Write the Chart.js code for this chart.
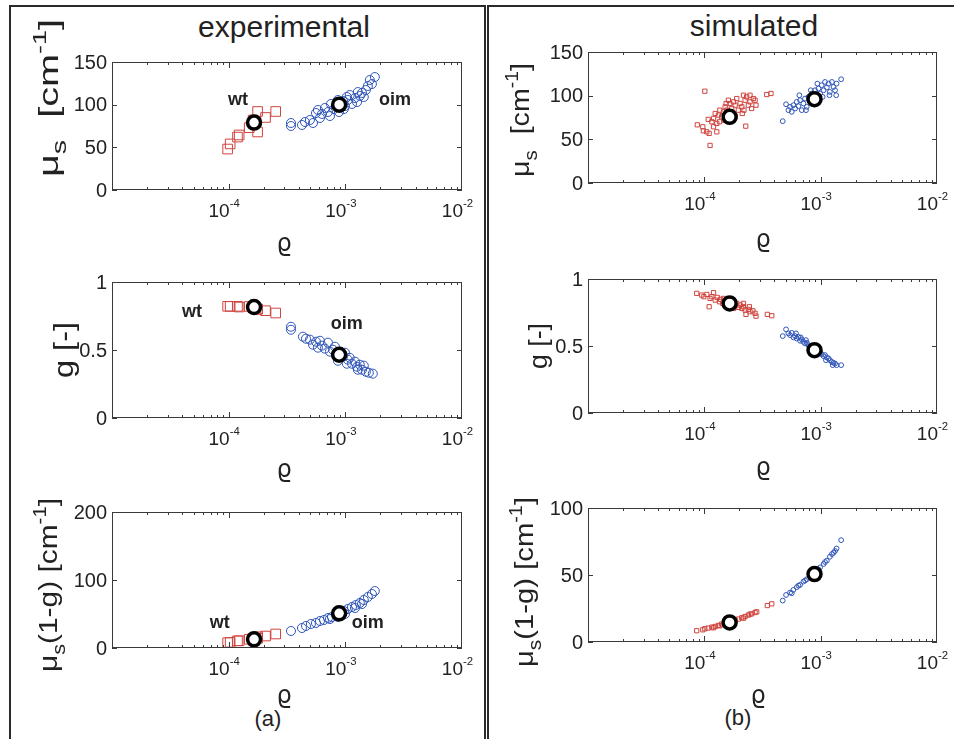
<!DOCTYPE html>
<html>
<head>
<meta charset="utf-8">
<script src="https://cdn.jsdelivr.net/npm/chart.js@4.4.1/dist/chart.umd.min.js"></script>
<style>
  body { margin: 0; width: 954px; height: 739px; overflow: hidden; position: relative; background: #fff;
         font-family: Arial, "Liberation Sans", sans-serif; color: #222; }
  canvas { position: absolute; left: 0; top: 0; pointer-events: none; }
  .frame { position: absolute; box-sizing: border-box; border: 2px solid #2a2a2a; }
  .head { position: absolute; width: 300px; text-align: center; font-size: 30px; line-height: 30px; }
  .tag { position: absolute; width: 60px; text-align: center; font-size: 22px; line-height: 22px; }
</style>
</head>
<body>
<div class="frame" style="left:9px;top:5px;width:477px;height:736px"></div>
<div class="frame" style="left:487px;top:5px;width:480px;height:736px"></div>
<div class="head" style="left:134px;top:12px">experimental</div>
<div class="head" style="left:604px;top:11px">simulated</div>
<div class="tag" style="left:238px;top:708px">(a)</div>
<div class="tag" style="left:708px;top:707px">(b)</div>

<canvas id="tl" width="954" height="739"></canvas>
<canvas id="ml" width="954" height="739"></canvas>
<canvas id="bl" width="954" height="739"></canvas>
<canvas id="tr" width="954" height="739"></canvas>
<canvas id="mr" width="954" height="739"></canvas>
<canvas id="br" width="954" height="739"></canvas>

<script>
// --- axis ticks ---
const rhoTicks = [1e-4, 1e-3, 1e-2];
const musTicks = [0, 50, 100, 150];
const gTicks = [0, 0.5, 1];
const mugExpTicks = [0, 100, 200];
const mugSimTicks = [0, 50, 100];

// --- group means (big black circles) ---
const meanRho = [1.65e-4, 8.85e-4];
const expMeanMus = [79, 100];
const expMeanG = [0.816, 0.465];
const expMeanMug = [12.8, 51];
const simMeanMus = [75.8, 96];
const simMeanG = [0.818, 0.469];
const simMeanMug = [14.6, 50.7];

// --- experimental, wt ---
const expWtRho = [0.98e-4, 1.03e-4, 1.19e-4, 1.23e-4, 1.50e-4, 1.62e-4, 1.77e-4, 1.77e-4, 2.07e-4, 2.53e-4];
const expWtMus = [48, 54, 62, 64.5, 73, 82, 68, 92, 85, 92];
const expWtG = [0.821, 0.821, 0.821, 0.816, 0.82, 0.81, 0.80, 0.80, 0.789, 0.772];
const expWtMug = [7.8, 8.4, 10.5, 10.7, 12.8, 14.5, 14.3, 16.5, 17.6, 20.6];

// --- experimental, oim ---
const expOimRhoA = [3.42e-4, 3.42e-4, 4.25e-4, 4.51e-4, 4.97e-4, 5.28e-4, 5.60e-4, 5.82e-4, 6.30e-4, 6.68e-4,
  7.10e-4, 7.53e-4, 7.99e-4, 8.31e-4, 8.82e-4, 8.99e-4, 9.53e-4, 9.93e-4, 1.05e-3, 1.09e-3,
  1.14e-3, 1.21e-3, 1.26e-3, 1.28e-3, 1.33e-3, 1.39e-3, 1.44e-3, 1.50e-3, 1.56e-3, 1.69e-3,
  1.62e-3, 1.79e-3, 1.03e-3, 9.72e-4, 8.64e-4, 7.38e-4, 6.06e-4];
const expOimMus = [78.5, 75.0, 76.2, 79.7, 82.0, 78.5, 90.2, 93.8, 89.1, 96.1,
  91.4, 100.8, 94.9, 98.4, 91.4, 102.0, 104.3, 98.4, 105.5, 111.3,
  100.8, 107.8, 103.1, 114.8, 110.2, 113.7, 109.0, 117.2, 121.9, 124.2,
  128.9, 132.4, 109.0, 94.9, 105.5, 86.7, 84.4];

const expOimRhoB = [3.42e-4, 3.42e-4, 4.33e-4, 4.60e-4, 4.97e-4, 5.28e-4, 5.60e-4, 5.82e-4, 6.06e-4, 6.30e-4,
  6.68e-4, 7.10e-4, 7.38e-4, 7.83e-4, 8.15e-4, 8.47e-4, 8.99e-4, 9.53e-4, 9.93e-4, 1.05e-3,
  1.09e-3, 1.14e-3, 1.21e-3, 1.26e-3, 1.28e-3, 1.33e-3, 1.39e-3, 1.44e-3, 1.50e-3, 1.59e-3,
  1.72e-3, 1.03e-3, 8.64e-4];
const expOimG = [0.671, 0.649, 0.598, 0.583, 0.576, 0.539, 0.561, 0.517, 0.568, 0.532,
  0.510, 0.554, 0.488, 0.502, 0.524, 0.458, 0.488, 0.451, 0.480, 0.429,
  0.443, 0.399, 0.414, 0.377, 0.355, 0.392, 0.355, 0.385, 0.340, 0.333,
  0.326, 0.399, 0.421];

const expOimRhoC = [1.79e-3, 1.69e-3, 1.56e-3, 1.44e-3, 1.33e-3, 1.23e-3, 1.14e-3, 1.05e-3, 9.72e-4, 8.99e-4,
  8.31e-4, 7.67e-4, 7.10e-4, 6.56e-4, 6.06e-4, 5.60e-4, 5.07e-4, 4.60e-4, 4.25e-4, 3.42e-4,
  9.93e-4, 1.21e-3, 1.39e-3, 8.64e-4, 7.38e-4];
const expOimMug = [83.8, 79.4, 75.0, 70.6, 66.2, 63.2, 60.3, 57.4, 54.4, 51.5,
  48.5, 45.6, 44.1, 41.2, 39.7, 36.8, 35.3, 32.4, 29.4, 25.0,
  50.0, 58.8, 64.7, 45.6, 42.6];

// --- simulated, wt ---
const simWtRhoA = [1.01e-4, 1.12e-4, 8.7e-5, 9.7e-5, 9.8e-5, 1.05e-4, 1.10e-4, 1.08e-4, 1.20e-4, 1.20e-4,
  1.28e-4, 1.32e-4, 1.36e-4, 1.41e-4, 1.46e-4, 1.51e-4, 1.56e-4, 1.61e-4, 1.66e-4, 1.72e-4,
  1.78e-4, 1.84e-4, 1.90e-4, 1.96e-4, 2.03e-4, 2.10e-4, 2.17e-4, 2.24e-4, 2.31e-4, 2.39e-4,
  2.47e-4, 2.55e-4, 2.64e-4, 2.73e-4, 2.78e-4, 2.27e-4, 3.44e-4, 3.74e-4, 1.28e-4, 1.48e-4,
  1.64e-4, 1.84e-4, 1.16e-4, 1.24e-4, 1.74e-4, 2.12e-4, 2.47e-4, 2.19e-4, 1.54e-4, 1.35e-4];
const simWtMus = [105.1, 43.0, 66.6, 64.4, 59.8, 58.6, 56.8, 72.8, 73.9, 64.4,
  68.2, 77.7, 83.4, 75.8, 81.5, 87.2, 83.4, 94.8, 91.0, 85.3,
  92.9, 89.1, 96.7, 83.4, 91.0, 87.2, 100.5, 94.8, 98.6, 89.1,
  92.9, 85.3, 96.7, 94.8, 89.1, 65.1, 101.3, 102.5, 58.6, 72.0,
  70.1, 75.8, 70.1, 79.6, 78.4, 79.6, 100.5, 83.4, 91.0, 70.1];

const simWtRhoB = [8.6e-5, 9.5e-5, 9.9e-5, 1.05e-4, 1.10e-4, 1.12e-4, 1.16e-4, 1.20e-4, 1.24e-4, 1.29e-4,
  1.35e-4, 1.38e-4, 1.44e-4, 1.51e-4, 1.56e-4, 1.61e-4, 1.69e-4, 1.75e-4, 1.84e-4, 1.90e-4,
  1.96e-4, 2.03e-4, 2.10e-4, 2.17e-4, 2.24e-4, 2.28e-4, 2.39e-4, 2.47e-4, 2.61e-4, 2.73e-4,
  2.78e-4, 2.44e-4, 2.17e-4, 1.78e-4, 1.46e-4, 3.48e-4, 3.80e-4];
const simWtG = [0.893, 0.880, 0.868, 0.885, 0.793, 0.855, 0.868, 0.898, 0.843, 0.863,
  0.830, 0.848, 0.818, 0.838, 0.806, 0.823, 0.813, 0.830, 0.798, 0.818,
  0.788, 0.806, 0.781, 0.793, 0.768, 0.736, 0.773, 0.756, 0.763, 0.744,
  0.723, 0.793, 0.818, 0.781, 0.855, 0.736, 0.726];

const simWtRhoC = [8.6e-5, 9.7e-5, 1.01e-4, 1.08e-4, 1.16e-4, 1.24e-4, 1.32e-4, 1.41e-4, 1.51e-4, 1.61e-4,
  1.72e-4, 1.84e-4, 1.96e-4, 2.10e-4, 2.24e-4, 2.39e-4, 2.55e-4, 2.73e-4, 2.82e-4, 3.48e-4,
  3.80e-4, 1.20e-4, 1.36e-4, 1.78e-4, 2.17e-4, 2.47e-4];
const simWtMug = [8.4, 9.1, 9.9, 10.4, 11.1, 11.6, 12.4, 13.4, 14.1, 14.9,
  15.6, 16.3, 17.1, 18.1, 19.0, 20.1, 21.0, 22.0, 22.5, 27.2,
  28.5, 10.6, 12.1, 15.3, 17.8, 20.8];

// --- simulated, oim ---
const simOimRhoA = [4.72e-4, 5.04e-4, 5.28e-4, 5.46e-4, 5.64e-4, 5.83e-4, 6.03e-4, 6.23e-4, 6.44e-4, 6.65e-4,
  6.88e-4, 7.11e-4, 7.34e-4, 7.59e-4, 7.85e-4, 8.11e-4, 8.38e-4, 8.66e-4, 8.95e-4, 9.25e-4,
  9.57e-4, 9.89e-4, 1.02e-3, 1.06e-3, 1.09e-3, 1.13e-3, 1.17e-3, 1.20e-3, 1.25e-3, 1.29e-3,
  1.33e-3, 1.37e-3, 1.50e-3, 6.56e-4, 7.48e-4, 9.37e-4, 1.19e-3, 8.22e-4, 1.36e-3, 1.04e-3];
const simOimMus = [70.8, 90.2, 83.4, 87.2, 81.5, 89.1, 85.3, 92.9, 88.0, 94.8,
  83.4, 91.0, 96.7, 87.2, 98.6, 92.9, 102.5, 91.0, 106.2, 98.6,
  108.2, 102.5, 112.0, 106.2, 115.7, 109.3, 113.8, 104.3, 115.7, 110.0,
  106.2, 113.8, 118.8, 100.5, 83.4, 113.8, 100.5, 106.2, 100.5, 98.6];

const simOimRhoB = [4.72e-4, 5.04e-4, 5.28e-4, 5.46e-4, 5.64e-4, 5.83e-4, 6.03e-4, 6.23e-4, 6.44e-4, 6.65e-4,
  6.88e-4, 7.11e-4, 7.34e-4, 7.59e-4, 7.85e-4, 8.11e-4, 8.38e-4, 8.66e-4, 9.25e-4, 9.57e-4,
  9.89e-4, 1.02e-3, 1.06e-3, 1.09e-3, 1.13e-3, 1.17e-3, 1.20e-3, 1.25e-3, 1.29e-3, 1.33e-3,
  1.37e-3, 1.50e-3, 6.14e-4, 6.74e-4, 7.48e-4, 8.95e-4, 1.11e-3, 1.27e-3];
const simOimG = [0.574, 0.624, 0.594, 0.581, 0.598, 0.564, 0.574, 0.556, 0.568, 0.539,
  0.549, 0.531, 0.519, 0.524, 0.506, 0.494, 0.499, 0.482, 0.464, 0.449,
  0.456, 0.439, 0.424, 0.432, 0.414, 0.407, 0.394, 0.381, 0.374, 0.369,
  0.357, 0.357, 0.594, 0.564, 0.544, 0.469, 0.394, 0.357];

const simOimRhoC = [4.72e-4, 5.04e-4, 5.46e-4, 5.83e-4, 6.23e-4, 6.65e-4, 7.11e-4, 7.59e-4, 8.11e-4, 8.66e-4,
  9.25e-4, 9.89e-4, 1.06e-3, 1.13e-3, 1.20e-3, 1.29e-3, 1.37e-3, 1.50e-3, 5.64e-4, 6.44e-4,
  7.34e-4, 8.38e-4, 9.57e-4, 1.09e-3, 1.25e-3, 1.33e-3];
const simOimMug = [30.9, 35.1, 36.9, 38.9, 40.9, 42.6, 45.1, 46.8, 48.7, 50.7,
  53.2, 55.7, 58.2, 60.7, 63.6, 66.6, 69.8, 76.0, 36.4, 42.1,
  45.9, 49.4, 54.2, 59.7, 65.6, 67.9];

// --- axis titles as [text, size factor, baseline shift in em] ---
const muLabel = [['μ', 1, 0], ['s', 0.72, 0.3], ['  [cm', 1, 0], ['-1', 0.68, -0.42], [']', 1, 0]];
const gLabel = [['g [-]', 1, 0]];
const mugLabel = [['μ', 1, 0], ['s', 0.72, 0.3], ['(1-g) [cm', 1, 0], ['-1', 0.68, -0.42], [']', 1, 0]];

const RED = '#d0453f';
const BLUE = '#2f55b8';
const INK = '#222';
const FONT = 'Arial, "Liberation Sans", sans-serif';

function pts(xs, ys) { return xs.map((v, i) => ({ x: v, y: ys[i] })); }

function richWidth(ctx, segs, size) {
  let w = 0;
  segs.forEach(([t, f]) => { ctx.font = (size * f) + 'px ' + FONT; w += ctx.measureText(t).width; });
  return w;
}

function drawRich(ctx, segs, size, x, y, align) {
  let cx = align === 'center' ? x - richWidth(ctx, segs, size) / 2 : x;
  ctx.textAlign = 'left';
  ctx.textBaseline = 'alphabetic';
  segs.forEach(([t, f, dy]) => {
    ctx.font = (size * f) + 'px ' + FONT;
    ctx.fillText(t, cx, y + dy * size);
    cx += ctx.measureText(t).width;
  });
}

const axesPlugin = {
  id: 'axesBox',
  afterDatasetsDraw(chart) {
    const o = chart.options.plugins.axesBox;
    const { ctx, chartArea: a } = chart;
    const xs = chart.scales.x, ys = chart.scales.y;
    ctx.save();
    ctx.strokeStyle = '#3a3a3a';
    ctx.lineWidth = 1;
    ctx.strokeRect(a.left + 0.5, a.top + 0.5, a.right - a.left - 1, a.bottom - a.top - 1);
    ctx.beginPath();
    // inward log ticks, bottom and top
    for (let e = Math.round(Math.log10(xs.min)); e < Math.round(Math.log10(xs.max)); e++) {
      for (let m = 1; m <= 9; m++) {
        const px = Math.round(xs.getPixelForValue(m * Math.pow(10, e))) + 0.5;
        const len = m === 1 ? 6 : 3;
        ctx.moveTo(px, a.bottom); ctx.lineTo(px, a.bottom - len);
        ctx.moveTo(px, a.top); ctx.lineTo(px, a.top + len);
      }
    }
    o.yTicks.forEach(v => {
      const py = Math.round(ys.getPixelForValue(v)) + 0.5;
      ctx.moveTo(a.left, py); ctx.lineTo(a.left + 5, py);
      ctx.moveTo(a.right, py); ctx.lineTo(a.right - 5, py);
    });
    ctx.stroke();

    ctx.fillStyle = INK;
    // y tick labels
    ctx.font = '20px ' + FONT;
    ctx.textAlign = 'right';
    ctx.textBaseline = 'middle';
    o.yTicks.forEach(v => ctx.fillText(String(v), a.left - 5, ys.getPixelForValue(v) + 1));
    // x tick labels 10^n, the "10" ends at the tick
    rhoTicks.forEach(v => {
      const px = xs.getPixelForValue(v);
      const ex = String(Math.round(Math.log10(v)));
      ctx.font = '19px ' + FONT;
      const w10 = ctx.measureText('10').width;
      drawRich(ctx, [['10', 1, 0], [ex, 0.6, -0.55]], 19, px - w10 + 1, a.bottom + 27, 'left');
    });
    // x title
    ctx.font = '24px "DejaVu Sans"';
    ctx.textAlign = 'center';
    ctx.textBaseline = 'alphabetic';
    ctx.fillText('ϱ', o.rhoAt[0], o.rhoAt[1]);
    // y title, rotated and stretched to the reference length
    ctx.save();
    ctx.translate(o.yTitleAt[0], o.yTitleAt[1]);
    ctx.rotate(-Math.PI / 2);
    const w = richWidth(ctx, o.yTitle, o.yTitleSize);
    ctx.scale(o.yTitleLen / w, 1);
    drawRich(ctx, o.yTitle, o.yTitleSize, 0, 0, 'center');
    ctx.restore();
    // group annotations
    ctx.font = 'bold 18px ' + FONT;
    ctx.textAlign = 'center';
    ctx.textBaseline = 'middle';
    (o.notes || []).forEach(n => ctx.fillText(n.text, xs.getPixelForValue(n.x), ys.getPixelForValue(n.y)));
    ctx.restore();
  }
};

const panels = [
  { id: 'tl', box: [112, 62, 462, 190], yMax: 150, yTicks: musTicks, big: true,
    wt: pts(expWtRho, expWtMus), oim: pts(expOimRhoA, expOimMus), mean: pts(meanRho, expMeanMus),
    yTitle: muLabel, yTitleSize: 28, yTitleLen: 158, yTitleAt: [58, 98], rhoAt: [284, 251],
    notes: [{ text: 'wt', x: 1.2e-4, y: 105 }, { text: 'oim', x: 2.66e-3, y: 105 }] },
  { id: 'ml', box: [112, 282, 462, 418], yMax: 1, yTicks: gTicks, big: true,
    wt: pts(expWtRho, expWtG), oim: pts(expOimRhoB, expOimG), mean: pts(meanRho, expMeanG),
    yTitle: gLabel, yTitleSize: 27, yTitleLen: 56, yTitleAt: [73, 350], rhoAt: [284, 477],
    notes: [{ text: 'wt', x: 4.85e-5, y: 0.78 }, { text: 'oim', x: 1.03e-3, y: 0.694 }] },
  { id: 'bl', box: [112, 512, 462, 648], yMax: 200, yTicks: mugExpTicks, big: true,
    wt: pts(expWtRho, expWtMug), oim: pts(expOimRhoC, expOimMug), mean: pts(meanRho, expMeanMug),
    yTitle: mugLabel, yTitleSize: 26, yTitleLen: 174, yTitleAt: [57, 585], rhoAt: [284, 703],
    notes: [{ text: 'wt', x: 8.4e-5, y: 36.8 }, { text: 'oim', x: 1.56e-3, y: 36.8 }] },
  { id: 'tr', box: [588, 52, 937, 183], yMax: 150, yTicks: musTicks, big: false,
    wt: pts(simWtRhoA, simWtMus), oim: pts(simOimRhoA, simOimMus), mean: pts(meanRho, simMeanMus),
    yTitle: muLabel, yTitleSize: 26, yTitleLen: 114, yTitleAt: [529, 120], rhoAt: [763, 247] },
  { id: 'mr', box: [588, 279, 937, 413], yMax: 1, yTicks: gTicks, big: false,
    wt: pts(simWtRhoB, simWtG), oim: pts(simOimRhoB, simOimG), mean: pts(meanRho, simMeanG),
    yTitle: gLabel, yTitleSize: 26, yTitleLen: 46, yTitleAt: [547, 346], rhoAt: [763, 475] },
  { id: 'br', box: [588, 508, 937, 642], yMax: 100, yTicks: mugSimTicks, big: false,
    wt: pts(simWtRhoC, simWtMug), oim: pts(simOimRhoC, simOimMug), mean: pts(meanRho, simMeanMug),
    yTitle: mugLabel, yTitleSize: 26, yTitleLen: 170, yTitleAt: [533, 582], rhoAt: [758, 703] }
];

panels.forEach(p => {
  const [l, t, r, b] = p.box;
  new Chart(document.getElementById(p.id), {
    type: 'scatter',
    data: {
      datasets: [
        { data: p.mean, pointStyle: 'circle', pointRadius: 6.5, borderWidth: 3.5,
          borderColor: '#000', backgroundColor: '#fff' },
        { data: p.oim, pointStyle: 'circle', pointRadius: p.big ? 4.5 : 2.4, borderWidth: 1,
          borderColor: BLUE, backgroundColor: 'rgba(0,0,0,0)' },
        { data: p.wt, pointStyle: 'rect', pointRadius: p.big ? 6.8 : 3, borderWidth: 1,
          borderColor: RED, backgroundColor: 'rgba(0,0,0,0)' }
      ]
    },
    options: {
      responsive: false,
      animation: false,
      events: [],
      layout: { padding: { left: l, top: t, right: 954 - r, bottom: 739 - b } },
      scales: {
        x: { type: 'logarithmic', min: 1e-5, max: 1e-2, display: false },
        y: { type: 'linear', min: 0, max: p.yMax, display: false }
      },
      plugins: {
        legend: { display: false },
        tooltip: { enabled: false },
        axesBox: p
      }
    },
    plugins: [axesPlugin]
  });
});
</script>
</body>
</html>
